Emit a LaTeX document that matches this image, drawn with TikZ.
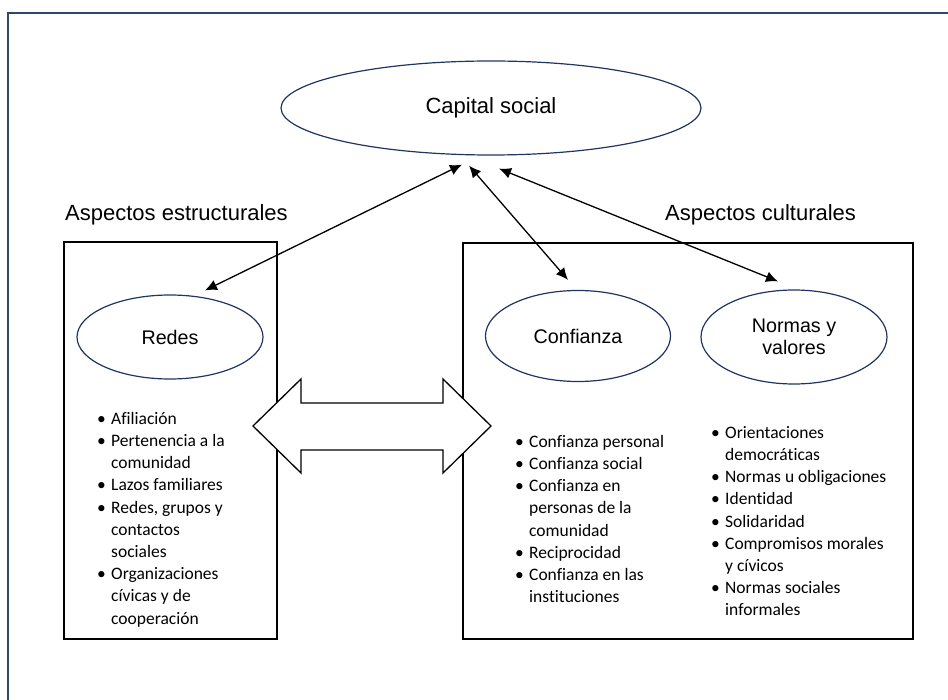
\documentclass[tikz,border=0pt]{standalone}
\usepackage{fontspec}
\setmainfont{Liberation Sans}
\newfontfamily\listfont[Ligatures=NoCommon,RawFeature={-liga;-clig}]{Carlito}
\usetikzlibrary{shapes.geometric,arrows.meta,calc}

\definecolor{framecol}{RGB}{47,72,105}
\definecolor{ovalblue}{RGB}{31,52,96}

\newcommand{\bul}{\makebox[14pt][l]{\textbullet}}
\newcommand{\ind}{\hspace*{14pt}}

\tikzset{
  oval/.style={draw=ovalblue, line width=1.2pt, ellipse, inner sep=0pt,
    align=center, font=\fontsize{19.7}{22}\selectfont},
  panel/.style={draw, line width=1.5pt},
  biarrow/.style={{Latex[length=12pt,width=11pt]}-{Latex[length=12pt,width=11pt]},
    line width=1.3pt},
  heading/.style={anchor=west, inner sep=0pt, font=\fontsize{22}{24}\selectfont},
  bullets/.style={anchor=north west, inner sep=0pt, align=left,
    font=\listfont\fontsize{17.5}{22.2}\selectfont}
}

\begin{document}
\begin{tikzpicture}[x=1pt,y=-1pt]
  \useasboundingbox (0,0) rectangle (948,700);
  \clip (0,0) rectangle (948,700);
  % frame runs off the page on the right and bottom
  \draw[framecol, line width=2pt] (8,13) rectangle (980,730);

  \node[oval, minimum width=420pt, minimum height=94pt, font=\fontsize{22}{24}\selectfont]
    (cap) at (491,108) {Capital social};

  \node[heading] (estr) at (65,215) {Aspectos estructurales};
  \node[heading] (cult) at (665,215) {Aspectos culturales};

  % the two panels
  \draw[panel] (64,242) rectangle (277,639);
  \draw[panel] (463,243) rectangle (913,639);

  \node[oval, minimum width=186pt, minimum height=84pt] (redes) at (170,337) {Redes};
  \node[oval, minimum width=185pt, minimum height=91pt] (conf) at (578,336) {Confianza};
  \node[oval, minimum width=186pt, minimum height=94pt] (norm) at (794,337)
    {Normas y\\valores};

  % links to capital social
  \draw[biarrow] ($(redes.north)+(35,-4)$) -- ($(cap.south)+(-29,9)$);
  \draw[biarrow] ($(conf.north)+(-10,-10)$) -- ($(cap.south)+(-22,10)$);
  \draw[biarrow] ($(norm.north)+(-16,-8)$) -- ($(cap.south)+(8,13)$);

  % big double arrow between the panels
  \draw[line width=1.3pt, fill=white] (253,426) -- (301,379) -- (301,403) -- (443,403)
    -- (443,379) -- (491,426) -- (443,473) -- (443,450) -- (301,450) -- (301,473) -- cycle;

  \node[bullets] (redlist) at (97,412)
    {\bul Afiliación\\
     \bul Pertenencia a la\\
     \ind comunidad\\
     \bul Lazos familiares\\
     \bul Redes, grupos y\\
     \ind contactos\\
     \ind sociales\\
     \bul Organizaciones\\
     \ind cívicas y de\\
     \ind cooperación};
  \node[bullets] (conflist) at (515,435)
    {\bul Confianza personal\\
     \bul Confianza social\\
     \bul Confianza en\\
     \ind personas de la\\
     \ind comunidad\\
     \bul Reciprocidad\\
     \bul Confianza en las\\
     \ind instituciones};
  \node[bullets] (normlist) at (711,426)
    {\bul Orientaciones\\
     \ind democráticas\\
     \bul Normas u obligaciones\\
     \bul Identidad\\
     \bul Solidaridad\\
     \bul Compromisos morales\\
     \ind y cívicos\\
     \bul Normas sociales\\
     \ind informales};
\end{tikzpicture}
\end{document}
